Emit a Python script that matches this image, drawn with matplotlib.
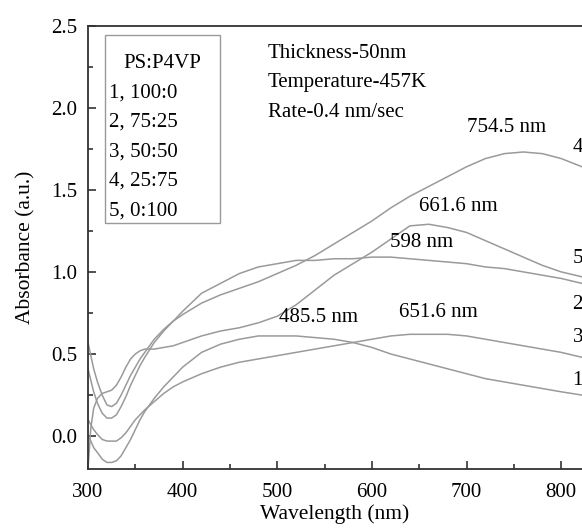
import matplotlib
matplotlib.use("Agg")
import matplotlib.pyplot as plt
from matplotlib.ticker import MultipleLocator
from matplotlib.patches import Rectangle

plt.rcParams['font.family'] = ['Liberation Serif', 'DejaVu Serif']

wavelength = [300, 303, 306, 310, 315, 320, 325, 330, 335, 340, 345, 350, 355, 360,
              370, 380, 390, 400, 420, 440, 460, 480, 500, 520, 540, 560, 580, 600,
              620, 640, 660, 680, 700, 720, 740, 760, 780, 800, 822]

abs_1 = [0.00, -0.03, -0.07, -0.10, -0.14, -0.16, -0.16, -0.15, -0.12, -0.07, -0.02, 0.04, 0.10, 0.15,
         0.23, 0.30, 0.36, 0.42, 0.51, 0.56, 0.59, 0.61, 0.61, 0.61, 0.60, 0.59, 0.57, 0.54,
         0.50, 0.47, 0.44, 0.41, 0.38, 0.35, 0.33, 0.31, 0.29, 0.27, 0.25]
abs_2 = [0.41, 0.34, 0.27, 0.20, 0.14, 0.11, 0.11, 0.13, 0.18, 0.24, 0.31, 0.37, 0.43, 0.48,
         0.57, 0.64, 0.70, 0.76, 0.87, 0.93, 0.99, 1.03, 1.05, 1.07, 1.07, 1.08, 1.08, 1.09,
         1.09, 1.08, 1.07, 1.06, 1.05, 1.03, 1.02, 1.00, 0.98, 0.96, 0.93]
abs_3 = [0.10, 0.07, 0.04, 0.01, -0.02, -0.03, -0.03, -0.03, -0.01, 0.02, 0.06, 0.10, 0.13, 0.16,
         0.21, 0.26, 0.30, 0.33, 0.38, 0.42, 0.45, 0.47, 0.49, 0.51, 0.53, 0.55, 0.57, 0.59,
         0.61, 0.62, 0.62, 0.62, 0.61, 0.59, 0.57, 0.55, 0.53, 0.51, 0.48]
abs_4 = [0.57, 0.49, 0.41, 0.33, 0.25, 0.19, 0.18, 0.20, 0.25, 0.31, 0.37, 0.42, 0.47, 0.51,
         0.59, 0.65, 0.70, 0.74, 0.81, 0.86, 0.90, 0.94, 0.99, 1.04, 1.10, 1.17, 1.24, 1.31,
         1.39, 1.46, 1.52, 1.58, 1.64, 1.69, 1.72, 1.73, 1.72, 1.69, 1.64]
abs_5 = [-0.20, 0.05, 0.17, 0.23, 0.26, 0.27, 0.28, 0.31, 0.36, 0.42, 0.47, 0.50, 0.52, 0.53,
         0.53, 0.54, 0.55, 0.57, 0.61, 0.64, 0.66, 0.69, 0.73, 0.80, 0.89, 0.98, 1.05, 1.12,
         1.20, 1.28, 1.29, 1.27, 1.24, 1.19, 1.14, 1.09, 1.04, 1.00, 0.97]

series = [abs_1, abs_2, abs_3, abs_4, abs_5]
curve_labels = ["1", "2", "3", "4", "5"]
curve_label_y = [0.34, 0.80, 0.60, 1.76, 1.08]

legend_title = "PS:P4VP"
legend_rows = ["1, 100:0", "2, 75:25", "3, 50:50", "4, 25:75", "5, 0:100"]
info_rows = ["Thickness-50nm", "Temperature-457K", "Rate-0.4 nm/sec"]
peak_labels = ["754.5 nm", "661.6 nm", "598 nm", "485.5 nm", "651.6 nm"]
peak_pos = [(701, 1.88), (650, 1.40), (619, 1.18), (502, 0.72), (629, 0.75)]

fig = plt.figure(figsize=(5.82, 5.29), dpi=100)
ax = fig.add_axes([88/582, 1-469/529, 1-88/582, (469-25.5)/529])

line_color = '#9a9a9a'
for ys in series:
    ax.plot(wavelength, ys, color=line_color, lw=1.1)

ax.set_xlim(300, 822)
ax.set_ylim(-0.2, 2.5)
ax.xaxis.set_major_locator(MultipleLocator(100))
ax.xaxis.set_minor_locator(MultipleLocator(50))
ax.yaxis.set_major_locator(MultipleLocator(0.5))
ax.yaxis.set_minor_locator(MultipleLocator(0.25))
ax.yaxis.set_major_formatter(plt.FormatStrFormatter('%.1f'))

ax.spines['right'].set_visible(False)
for s in ['left', 'top', 'bottom']:
    ax.spines[s].set_color('#333333')
    ax.spines[s].set_linewidth(1.3)
ax.tick_params(which='both', direction='in', top=False, right=False,
               colors='#333333', labelcolor='black', labelsize=15, width=1.2)
ax.tick_params(which='major', length=6)
ax.tick_params(which='minor', length=3.5)
ax.tick_params(axis='x', which='major', pad=10)
ax.tick_params(axis='y', which='major', pad=8)

ax.set_xlabel("Wavelength (nm)", fontsize=15.5, labelpad=2)
ax.set_ylabel("Absorbance (a.u.)", fontsize=15.5, labelpad=11)

# legend box
ax.add_patch(Rectangle((318, 1.30), 439.4-318, 2.445-1.30, fill=False,
                       edgecolor='#999999', lw=1.0))
ax.text(379, 2.27, legend_title, fontsize=15, ha='center', va='center')
for i, row in enumerate(legend_rows):
    ax.text(322, 2.09 - i*0.18, row, fontsize=15, ha='left', va='center')

for i, row in enumerate(info_rows):
    ax.text(490, 2.33 - i*0.18, row, fontsize=15, ha='left', va='center')

for txt, (x, y) in zip(peak_labels, peak_pos):
    ax.text(x, y, txt, fontsize=15, ha='left', va='center')

for lab, y in zip(curve_labels, curve_label_y):
    ax.text(812, y, lab, fontsize=15, ha='left', va='center', clip_on=False)

fig.savefig("out.png", dpi=100)
